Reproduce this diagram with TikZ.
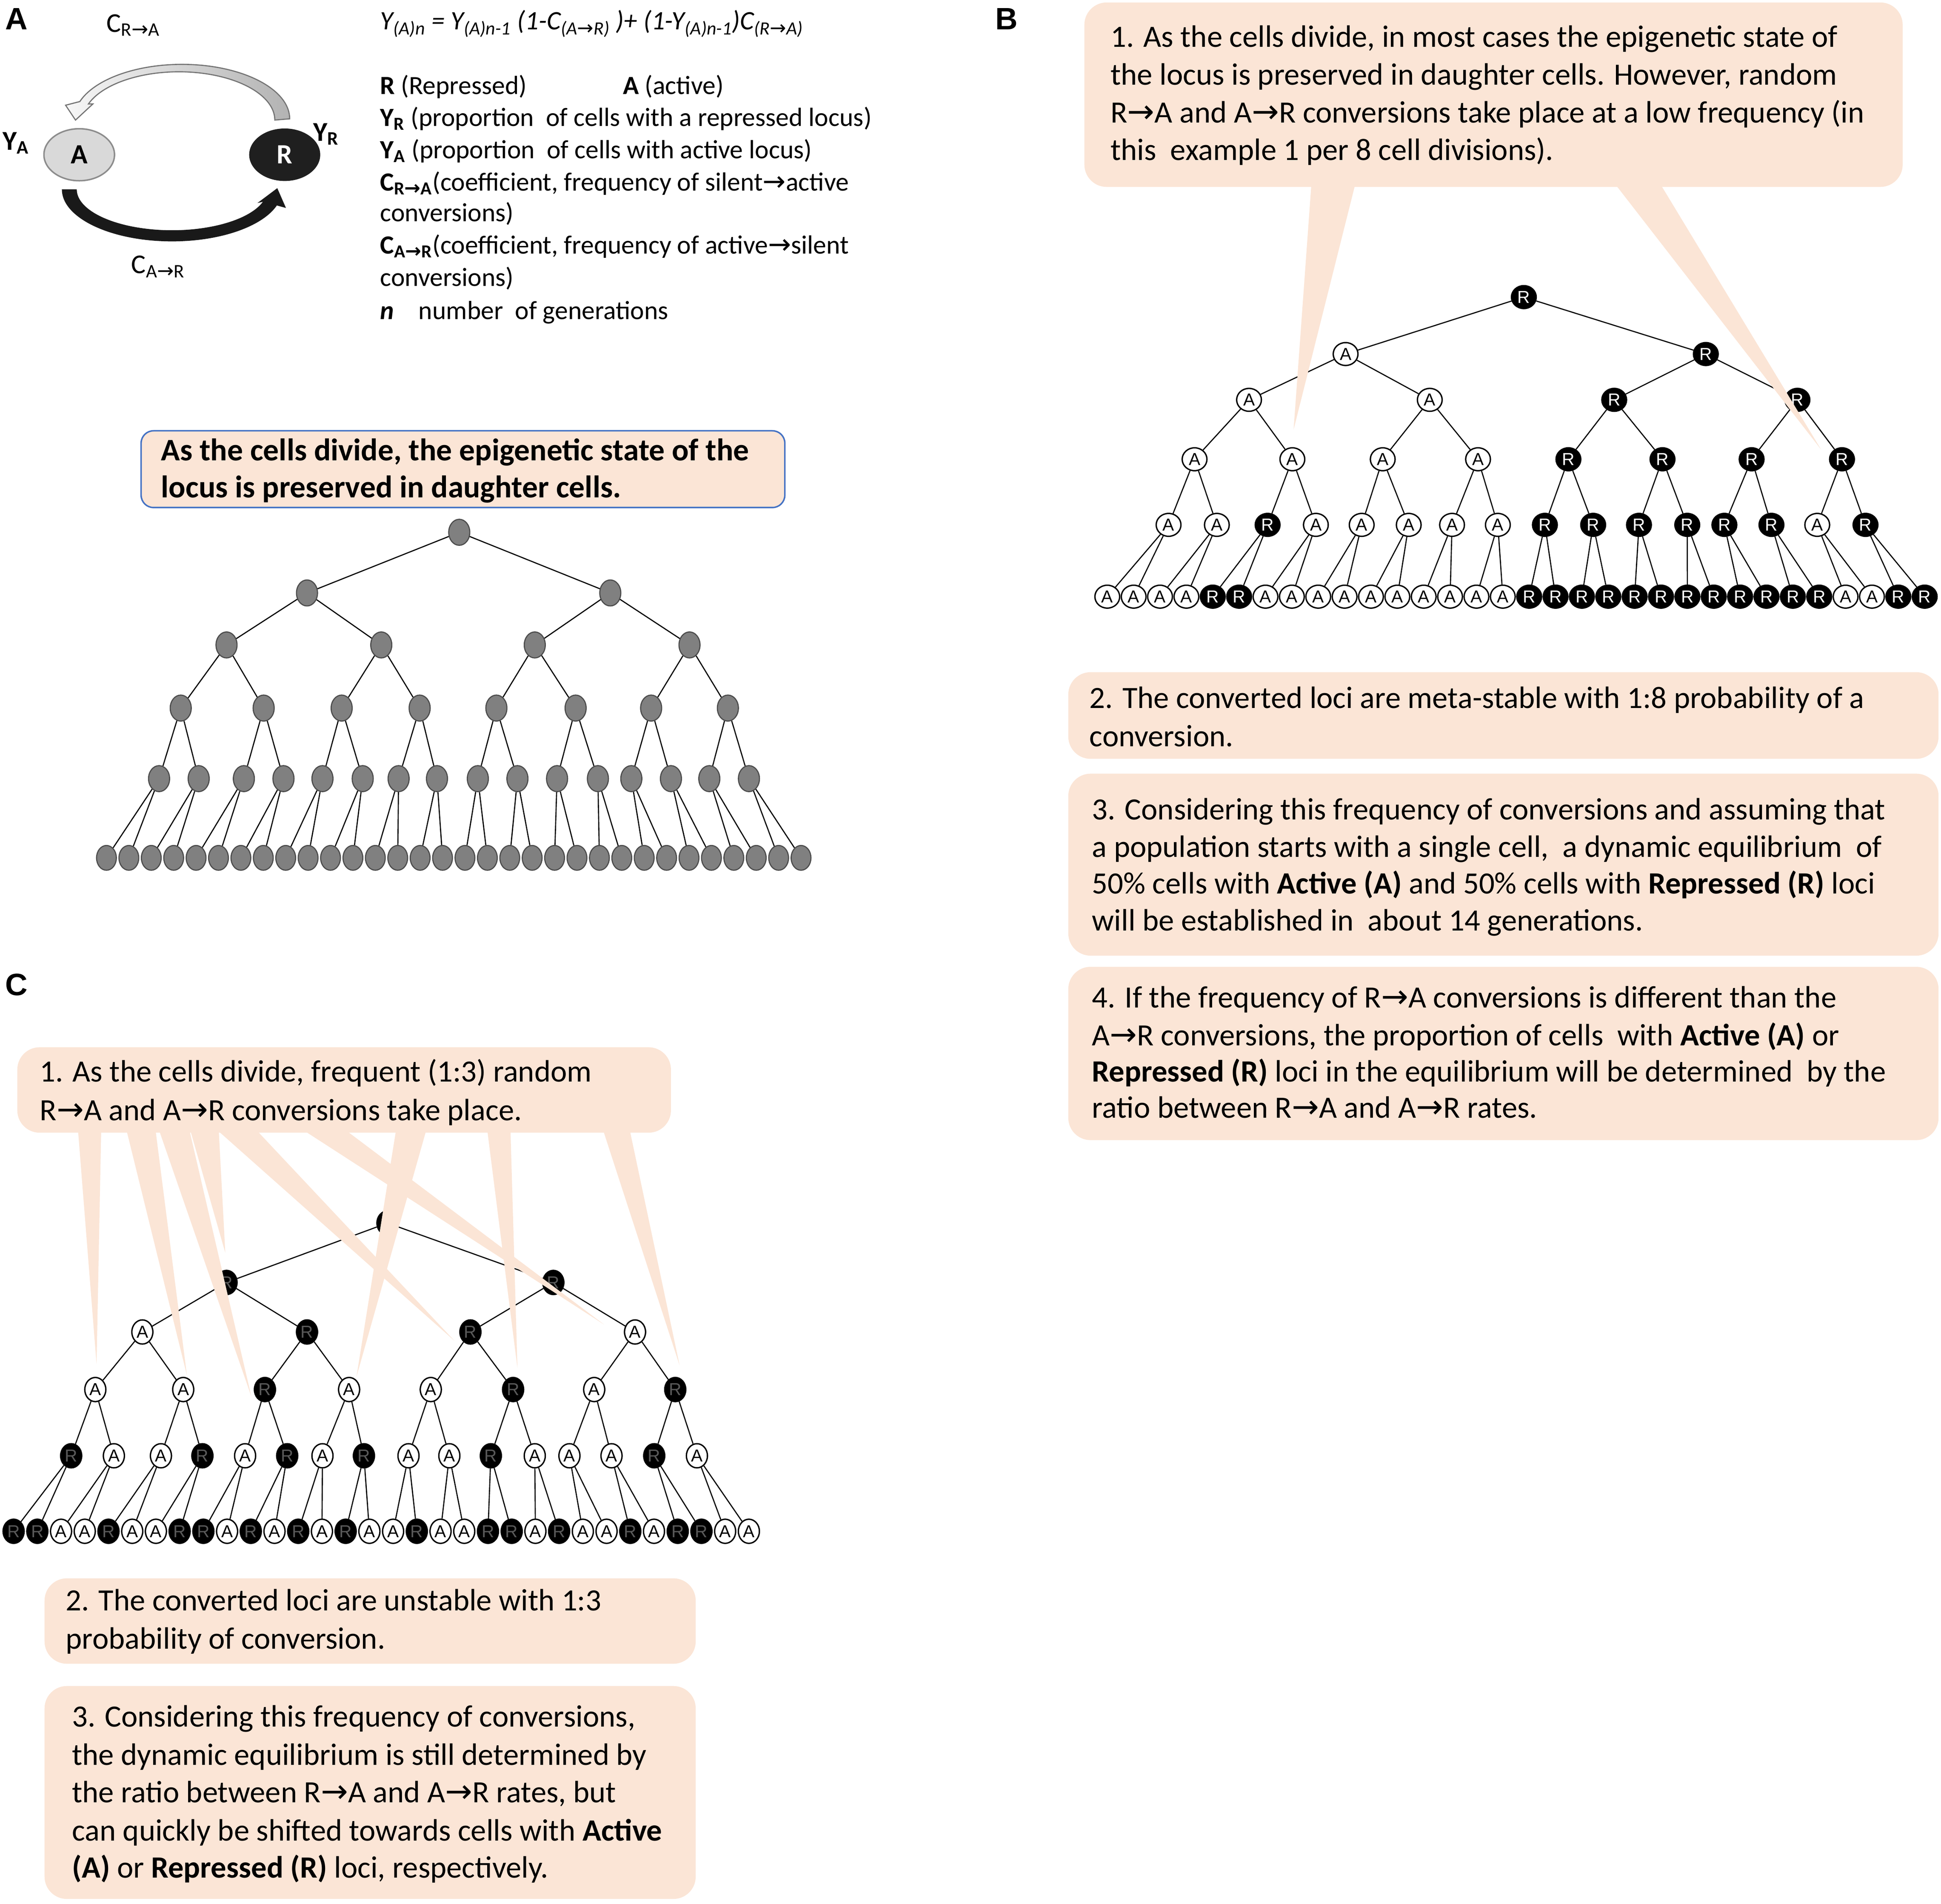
\documentclass[tikz,border=0pt]{standalone}
\usepackage{fontspec}
\setmainfont{Carlito}
\newfontfamily\arialfont{Liberation Sans}
\newfontfamily\arrowfont{DejaVu Sans}[Scale=1.05]
\usetikzlibrary{shapes.geometric}
\definecolor{peach}{RGB}{251,229,214}
\definecolor{boxblue}{RGB}{68,114,196}
\newcommand{\myarr}{{\arrowfont →}}
\begin{document}
\begin{tikzpicture}[x=1pt,y=-1pt,
  edge/.style={line width=0.9pt},
  txt/.style={anchor=base west, inner sep=0pt, font=\fontsize{25}{30}\selectfont},
  leg/.style={anchor=base west, inner sep=0pt, font=\fontsize{21.2}{25}\selectfont},
  pbox/.style={fill=peach, rounded corners=18pt},
  ptr/.style={fill=peach},
  gcell/.style={ellipse, draw=black!70, fill=black!50, line width=0.9pt, minimum width=17pt, minimum height=21pt, inner sep=0pt},
  gleaf/.style={gcell, minimum width=16pt, minimum height=20pt},
  bA/.style={ellipse, draw=black, fill=white, line width=1.1pt, minimum width=20pt, minimum height=18.5pt, inner sep=0pt, font=\arialfont\fontsize{14}{14}\selectfont, text=black},
  bR/.style={bA, fill=black, text=white},
  cA/.style={bA, minimum width=17pt, minimum height=19.5pt},
  cR/.style={cA, fill=black, text=black!65},
  plabel/.style={anchor=base west, inner sep=0pt, font=\arialfont\bfseries\fontsize{25}{25}\selectfont}
]
\path[use as bounding box, fill=white] (0,0) rectangle (1568,1538);

% ---------------- panel labels
\node[plabel] (labA) at (4,24) {A};
\node[plabel] (labB) at (804,24) {B};
\node[plabel] (labC) at (4,804) {C};

% ---------------- panel A: cycle
\node[ellipse, draw=black!45, fill=black!15, line width=1.2pt, minimum width=57pt, minimum height=42pt, inner sep=0pt, font=\bfseries\fontsize{22.5}{22.5}\selectfont] (cycA) at (64,125) {A};
\node[ellipse, draw=black!88, fill=black!88, minimum width=57pt, minimum height=42pt, inner sep=0pt, text=white, font=\bfseries\fontsize{22.5}{22.5}\selectfont] (cycR) at (230,125) {R};
\shade[left color=black!3, right color=black!30, draw=black!55, line width=0.9pt] (234,96) arc[start angle=0, end angle=-161.5, x radius=87, y radius=44] -- (53,85) -- (61,97) -- (75,84) -- (71.45,83.98) arc[start angle=-160.5, end angle=0, x radius=77.5, y radius=39] -- cycle;
\path[fill=black!90] (50,153) arc[start angle=180, end angle=18, x radius=89, y radius=42] -- (231,168) -- (224,152) -- (208,164) -- (212.4,163) arc[start angle=17.6, end angle=180, x radius=77, y radius=33] -- cycle;
\node[anchor=base west, inner sep=0pt, font=\fontsize{22}{24}\selectfont] (cra) at (86,26) {C\textsubscript{R\myarr A}};
\node[anchor=base west, inner sep=0pt, font=\fontsize{22}{24}\selectfont] (car) at (106,221) {C\textsubscript{A\myarr R}};
\node[anchor=base west, inner sep=0pt, font=\bfseries\fontsize{22}{26}\selectfont] (ya) at (2,121) {Y\textsubscript{A}};
\node[anchor=base west, inner sep=0pt, font=\bfseries\fontsize{22}{26}\selectfont] (yr) at (253,114) {Y\textsubscript{R}};

% formula and legend
\node[anchor=base west, inner sep=0pt, font=\itshape\fontsize{21.5}{24}\selectfont] (formula) at (307,24) {Y\textsubscript{(A)n} = Y\textsubscript{(A)n-1} (1-C\textsubscript{(A\myarr R)} )+ (1-Y\textsubscript{(A)n-1})C\textsubscript{(R\myarr A)}};
\node[leg] (lg1) at (307,76) {\textbf{R} (Repressed)};
\node[leg] (lg1b) at (503,76) {\textbf{A} (active)};
\node[leg] (lg2) at (307,102) {\textbf{Y\textsubscript{R}} (proportion\ \ of cells with a repressed locus)};
\node[leg] (lg3) at (307,128) {\textbf{Y\textsubscript{A}} (proportion\ \ of cells with active locus)};
\node[leg] (lg4) at (307,154) {\textbf{C\textsubscript{R\myarr A}}(coefficient, frequency of silent\myarr active};
\node[leg] (lg5) at (307,179) {conversions)};
\node[leg] (lg6) at (307,205) {\textbf{C\textsubscript{A\myarr R}}(coefficient, frequency of active\myarr silent};
\node[leg] (lg7) at (307,231) {conversions)};
\node[leg] (lg8) at (307,258) {\textbf{\textit{n}}};
\node[leg] (lg8b) at (338,258) {number\ \ of generations};

% ---------------- panel A: box and tree
\draw[fill=peach, draw=boxblue, line width=1.2pt, rounded corners=10pt] (114,348) rectangle (634,410);
\node[anchor=base west, inner sep=0pt, font=\bfseries\fontsize{25.3}{30}\selectfont] (at1) at (130,372) {As the cells divide, the epigenetic state of the};
\node[anchor=base west, inner sep=0pt, font=\bfseries\fontsize{25.3}{30}\selectfont] (at2) at (130,402) {locus is preserved in daughter cells.};

\foreach \xx [count=\i from 0] in {371} \node[gcell] (a0-\i) at (\xx,430) {};
\foreach \xx [count=\i from 0] in {248,493} \node[gcell] (a1-\i) at (\xx,479) {};
\foreach \xx [count=\i from 0] in {183,308,432,557} \node[gcell] (a2-\i) at (\xx,521) {};
\foreach \xx [count=\i from 0] in {146,213,276,339,401,465,526,588} \node[gcell] (a3-\i) at (\xx,572) {};
\foreach \xx [count=\i from 0] in {128.5,160.5,197,229,260.5,293,322,353,386,418,450,483,510,542,573,605} \node[gcell] (a4-\i) at (\xx,629) {};
\foreach \i in {0,...,31} {\pgfmathsetmacro\xx{86+18.1*\i} \node[gleaf] (a5-\i) at (\xx,693) {};}
\foreach \p/\c/\n in {a0/a1/0,a1/a2/1,a2/a3/3,a3/a4/7,a4/a5/15} {
  \foreach \i in {0,...,\n} {
    \pgfmathtruncatemacro\ja{2*\i}\pgfmathtruncatemacro\jb{2*\i+1}
    \draw[edge] (\p-\i) -- (\c-\ja) (\p-\i) -- (\c-\jb);
  }
}

% ---------------- panel B: tree
\foreach \xx/\lab [count=\i from 0] in {1231/R} \node[b\lab] (b0-\i) at (\xx,240) {\lab};
\foreach \xx/\lab [count=\i from 0] in {1087/A,1378/R} \node[b\lab] (b1-\i) at (\xx,286) {\lab};
\foreach \xx/\lab [count=\i from 0] in {1009/A,1155/A,1304/R,1452/R} \node[b\lab] (b2-\i) at (\xx,323) {\lab};
\foreach \xx/\lab [count=\i from 0] in {965/A,1044/A,1117/A,1194/A,1267/R,1343/R,1415/R,1488/R} \node[b\lab] (b3-\i) at (\xx,371) {\lab};
\foreach \xx/\lab [count=\i from 0] in {944/A,983/A,1024/R,1063/A,1100/A,1138/A,1173/A,1210/A,1248/R,1287/R,1324/R,1363/R,1393/R,1431/R,1468/A,1507/R} \node[b\lab] (b4-\i) at (\xx,424) {\lab};
\foreach \lab [count=\i from 0] in {A,A,A,A,R,R,A,A,A,A,A,A,A,A,A,A,R,R,R,R,R,R,R,R,R,R,R,R,A,A,R,R} {\pgfmathsetmacro\xx{894.5+21.3*\i} \node[b\lab] (b5-\i) at (\xx,482) {\lab};}
\foreach \p/\c/\n in {b0/b1/0,b1/b2/1,b2/b3/3,b3/b4/7,b4/b5/15} {
  \foreach \i in {0,...,\n} {
    \pgfmathtruncatemacro\ja{2*\i}\pgfmathtruncatemacro\jb{2*\i+1}
    \draw[edge] (\p-\i) -- (\c-\ja) (\p-\i) -- (\c-\jb);
  }
}

% ---------------- panel C: tree
\foreach \xx/\lab [count=\i from 0] in {313/R} \node[c\lab] (c0-\i) at (\xx,988) {\lab};
\foreach \xx/\lab [count=\i from 0] in {183/R,447/R} \node[c\lab] (c1-\i) at (\xx,1036) {\lab};
\foreach \xx/\lab [count=\i from 0] in {115/A,248/R,380/R,513/A} \node[c\lab] (c2-\i) at (\xx,1076) {\lab};
\foreach \xx/\lab [count=\i from 0] in {77/A,148/A,214/R,282/A,348/A,414.5/R,480/A,545.5/R} \node[c\lab] (c3-\i) at (\xx,1122.5) {\lab};
\foreach \xx/\lab [count=\i from 0] in {57.5/R,92/A,130/A,163.5/R,198/A,232/R,260.5/A,294/R,330/A,363/A,396.5/R,432/A,460/A,494/A,528.5/R,563/A} \node[c\lab] (c4-\i) at (\xx,1176) {\lab};
\foreach \lab [count=\i from 0] in {R,R,A,A,R,A,A,R,R,A,R,A,R,A,R,A,A,R,A,A,R,R,A,R,A,A,R,A,R,R,A,A} {\pgfmathsetmacro\xx{11+19.16*\i} \node[c\lab] (c5-\i) at (\xx,1237) {\lab};}
\foreach \p/\c/\n in {c0/c1/0,c1/c2/1,c2/c3/3,c3/c4/7,c4/c5/15} {
  \foreach \i in {0,...,\n} {
    \pgfmathtruncatemacro\ja{2*\i}\pgfmathtruncatemacro\jb{2*\i+1}
    \draw[edge] (\p-\i) -- (\c-\ja) (\p-\i) -- (\c-\jb);
  }
}

% ---------------- callout pointers
\path[ptr] (1060,140) -- (1097,140) -- (1045,347) -- cycle;
\path[ptr] (1298,140) -- (1336,140) -- (1471,363) -- cycle;
\path[ptr] (62,900) -- (82,900) -- (78,1102) -- cycle;
\path[ptr] (99,900) -- (124,900) -- (151,1111) -- cycle;
\path[ptr] (124,900) -- (150,900) -- (203,1128) -- cycle;
\path[ptr] (150,900) -- (176,900) -- (182,1012) -- cycle;
\path[ptr] (161,900) -- (195,900) -- (367,1083) -- cycle;
\path[ptr] (225,900) -- (262,900) -- (488,1070) -- cycle;
\path[ptr] (322,900) -- (348,900) -- (288,1112) -- cycle;
\path[ptr] (392,900) -- (412,900) -- (418,1105) -- cycle;
\path[ptr] (483,900) -- (506,900) -- (549,1103) -- cycle;

% ---------------- panel B boxes
\path[pbox] (876,2) rectangle (1537,151);
\node[txt] (b1t1) at (897,38) {1. As the cells divide, in most cases the epigenetic state of};
\node[txt] (b1t2) at (897,68.5) {the locus is preserved in daughter cells. However, random};
\node[txt] (b1t3) at (897,99) {R\myarr A and A\myarr R conversions take place at a low frequency (in};
\node[txt] (b1t4) at (897,129.5) {this\ \ example 1 per 8 cell divisions).};

\path[pbox] (863,543) rectangle (1566,613);
\node[txt] (b2t1) at (880,572) {2. The converted loci are meta-stable with 1:8 probability of a};
\node[txt] (b2t2) at (880,603) {conversion.};

\path[pbox] (863,625) rectangle (1566,772);
\node[txt] (b3t1) at (882,662) {3. Considering this frequency of conversions and assuming that};
\node[txt] (b3t2) at (882,692.5) {a population starts with a single cell,\ \ a dynamic equilibrium\ \ of};
\node[txt] (b3t3) at (882,722) {50\% cells with \textbf{Active (A)} and 50\% cells with \textbf{Repressed (R)} loci};
\node[txt] (b3t4) at (882,752) {will be established in\ \ about 14 generations.};

\path[pbox] (863,781) rectangle (1566,921);
\node[txt] (b4t1) at (882,814) {4. If the frequency of R\myarr A conversions is different than the};
\node[txt] (b4t2) at (882,844.5) {A\myarr R conversions, the proportion of cells\ \ with \textbf{Active (A)} or};
\node[txt] (b4t3) at (882,874) {\textbf{Repressed (R)} loci in the equilibrium will be determined\ \ by the};
\node[txt] (b4t4) at (882,903) {ratio between R\myarr A and A\myarr R rates.};

% ---------------- panel C boxes
\path[pbox] (14,846) rectangle (542,915);
\node[txt] (c1t1) at (32,874) {1. As the cells divide, frequent (1:3) random};
\node[txt] (c1t2) at (32,905) {R\myarr A and A\myarr R conversions take place.};

\path[pbox] (36,1275) rectangle (562,1344);
\node[txt] (c2t1) at (53,1301) {2. The converted loci are unstable with 1:3};
\node[txt] (c2t2) at (53,1332) {probability of conversion.};

\path[pbox] (36,1362) rectangle (562,1534);
\node[txt] (c3t1) at (58,1395) {3. Considering this frequency of conversions,};
\node[txt] (c3t2) at (58,1426) {the dynamic equilibrium is still determined by};
\node[txt] (c3t3) at (58,1456) {the ratio between R\myarr A and A\myarr R rates, but};
\node[txt] (c3t4) at (58,1487) {can quickly be shifted towards cells with \textbf{Active}};
\node[txt] (c3t5) at (58,1517) {\textbf{(A)} or \textbf{Repressed (R)} loci, respectively.};
\end{tikzpicture}
\end{document}
